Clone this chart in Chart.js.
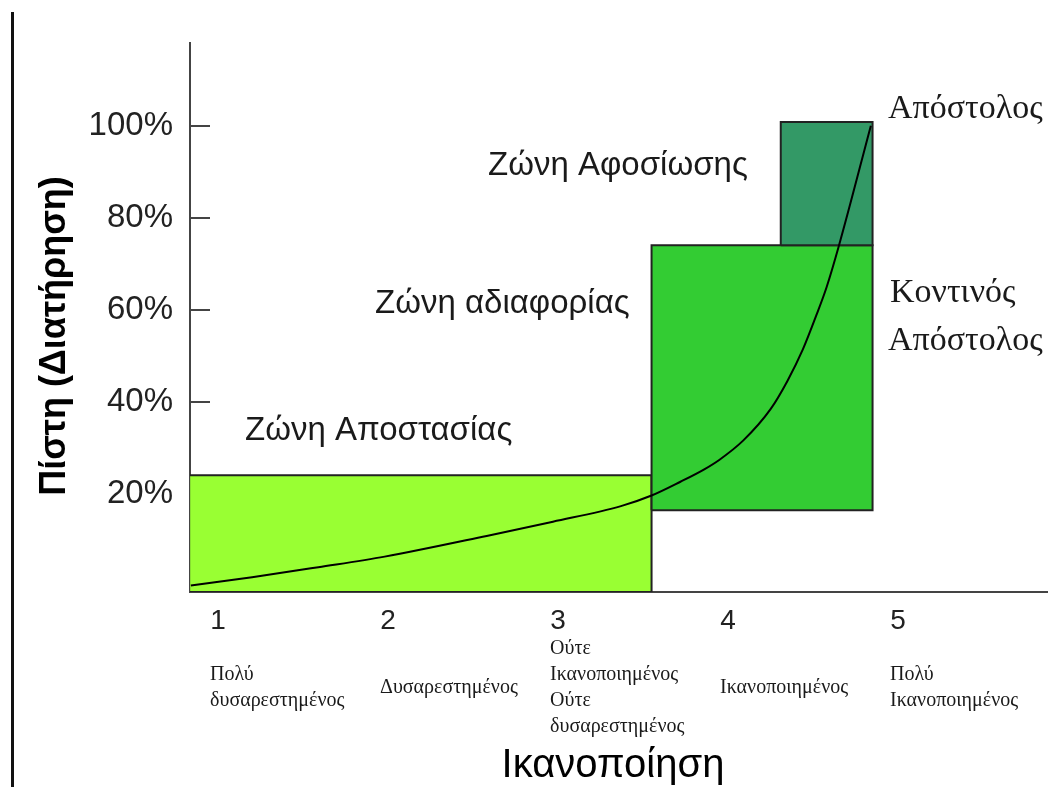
<!DOCTYPE html>
<html>
<head>
<meta charset="utf-8">
<script src="https://cdn.jsdelivr.net/npm/chart.js@4"></script>
<style>
  body { margin: 0; background: #fff; }
  #wrap { position: relative; width: 1048px; height: 787px; }
  #edge { position: absolute; left: 11px; top: 12px; width: 3px; height: 775px; background: #111; }
</style>
</head>
<body>
<div id="wrap">
  <canvas id="zoneChart"></canvas>
  <div id="edge"></div>
</div>
<script>
// axis ticks
const xTicks = [1, 2, 3, 4, 5];
const xTickNames = [
    ['Πολύ', 'δυσαρεστημένος'],
    ['Δυσαρεστημένος'],
    ['Ούτε', 'Ικανοποιημένος', 'Ούτε', 'δυσαρεστημένος'],
    ['Ικανοποιημένος'],
    ['Πολύ', 'Ικανοποιημένος']
];
const yTicks = [20, 40, 60, 80, 100];

// zones (x from/to, y from/to in %)
const zoneNames = ['Ζώνη Αποστασίας', 'Ζώνη αδιαφορίας', 'Ζώνη Αφοσίωσης'];
const zoneX0 = [0.83, 3.55, 4.31];
const zoneX1 = [3.55, 4.85, 4.85];
const zoneY0 = [-1.4, 16.4, 74.1];
const zoneY1 = [24.0, 74.1, 100.9];
const zoneColors = ['#99ff33', '#33cc33', '#339966'];

// loyalty curve
const curveX = [0.84, 1.20, 1.59, 1.98, 2.58, 2.97, 3.37, 3.55, 3.72, 3.86, 3.95, 4.09, 4.25, 4.35, 4.44, 4.52, 4.58, 4.65, 4.84];
const curveY = [0, 1.8, 4.0, 6.3, 10.8, 13.9, 17.3, 19.6, 22.6, 25.3, 27.4, 31.6, 38.4, 44.6, 51.4, 58.9, 65.0, 73.7, 100.1];

const sans = '"Liberation Sans", Arial, sans-serif';
const serif = '"Liberation Serif", "DejaVu Serif", serif';

// text placed on the picture
const notes = [
    { text: zoneNames[0], x: 245, y: 440, font: '33px ' + sans },
    { text: zoneNames[1], x: 375, y: 313, font: '33px ' + sans },
    { text: zoneNames[2], x: 488, y: 175, font: '33px ' + sans },
    { text: 'Απόστολος', x: 888, y: 118, font: '34px ' + serif },
    { text: 'Κοντινός', x: 890, y: 302, font: '34px ' + serif },
    { text: 'Απόστολος', x: 888, y: 350, font: '34px ' + serif }
];

function rectPoints(i) {
    return [
        { x: zoneX0[i], y: zoneY0[i] },
        { x: zoneX0[i], y: zoneY1[i] },
        { x: zoneX1[i], y: zoneY1[i] },
        { x: zoneX1[i], y: zoneY0[i] },
        { x: zoneX0[i], y: zoneY0[i] }
    ];
}

let datasets = zoneNames.map((name, i) => ({
    label: name,
    data: rectPoints(i),
    showLine: true,
    fill: 'shape',
    backgroundColor: zoneColors[i],
    borderColor: '#222',
    borderWidth: 2,
    pointRadius: 0,
    tension: 0,
    order: 3 - i
}));

datasets.push({
    label: 'Πίστη',
    data: curveX.map((x, i) => ({ x: x, y: curveY[i] })),
    showLine: true,
    fill: false,
    borderColor: '#000',
    borderWidth: 2,
    pointRadius: 0,
    cubicInterpolationMode: 'monotone',
    order: 0
});

// tick marks drawn inside the plot + texts
const extras = {
    id: 'extras',
    beforeDatasetsDraw(chart) {
        const ctx = chart.ctx;
        const ys = chart.scales.y;
        const left = chart.chartArea.left;
        ctx.save();
        ctx.strokeStyle = '#444';
        ctx.lineWidth = 2;
        yTicks.forEach(v => {
            let py = Math.round(ys.getPixelForValue(v));
            ctx.beginPath();
            ctx.moveTo(left, py);
            ctx.lineTo(left + 20, py);
            ctx.stroke();
        });
        ctx.restore();
    },
    afterDraw(chart) {
        const ctx = chart.ctx;
        const xs = chart.scales.x;
        ctx.save();
        ctx.fillStyle = '#1a1a1a';
        ctx.textAlign = 'left';
        ctx.textBaseline = 'alphabetic';
        notes.forEach(n => {
            ctx.font = n.font;
            ctx.fillText(n.text, n.x, n.y);
        });

        // category names under the numbers
        ctx.font = '20px ' + serif;
        ctx.textBaseline = 'middle';
        xTicks.forEach((v, i) => {
            let lines = xTickNames[i];
            let px = xs.getPixelForValue(v) - 8;
            let y0 = 688 - (lines.length - 1) * 26 / 2;
            lines.forEach((t, j) => ctx.fillText(t, px, y0 + j * 26));
        });

        // axis titles
        ctx.fillStyle = '#000';
        ctx.font = '40px ' + sans;
        ctx.textAlign = 'center';
        ctx.textBaseline = 'alphabetic';
        ctx.fillText('Ικανοποίηση', 613, 777);

        ctx.translate(65, 336);
        ctx.rotate(-Math.PI / 2);
        ctx.font = 'bold 36px ' + sans;
        ctx.fillText('Πίστη (Διατήρηση)', 0, 0);
        ctx.restore();
    }
};

const ctx = document.getElementById('zoneChart').getContext('2d');
const zoneChart = new Chart(ctx, {
    type: 'scatter',
    data: { datasets: datasets },
    options: {
        responsive: true,
        maintainAspectRatio: false,
        animation: false,
        layout: { padding: { top: 43, right: 0, left: 0, bottom: 0 } },
        plugins: {
            legend: { display: false },
            tooltip: { enabled: false }
        },
        scales: {
            x: {
                type: 'linear',
                min: 0.835,
                max: 5.882,
                afterBuildTicks: scale => { scale.ticks = xTicks.map(v => ({ value: v })); },
                afterFit: scale => { scale.height = 195; },
                grid: { display: true, drawOnChartArea: false, drawTicks: false },
                border: { display: true, color: '#444', width: 2 },
                ticks: {
                    color: '#222',
                    padding: 12,
                    maxRotation: 0,
                    font: { family: sans, size: 28 },
                    callback: v => String(v)
                }
            },
            y: {
                type: 'linear',
                min: -1.4,
                max: 118.1,
                afterBuildTicks: scale => { scale.ticks = yTicks.map(v => ({ value: v })); },
                afterFit: scale => { scale.width = 190; },
                grid: { display: true, drawOnChartArea: false, drawTicks: false },
                border: { display: true, color: '#444', width: 2 },
                ticks: {
                    color: '#222',
                    padding: 17,
                    font: { family: sans, size: 33 },
                    callback: v => v + '%'
                }
            }
        }
    },
    plugins: [extras]
});
</script>
</body>
</html>
